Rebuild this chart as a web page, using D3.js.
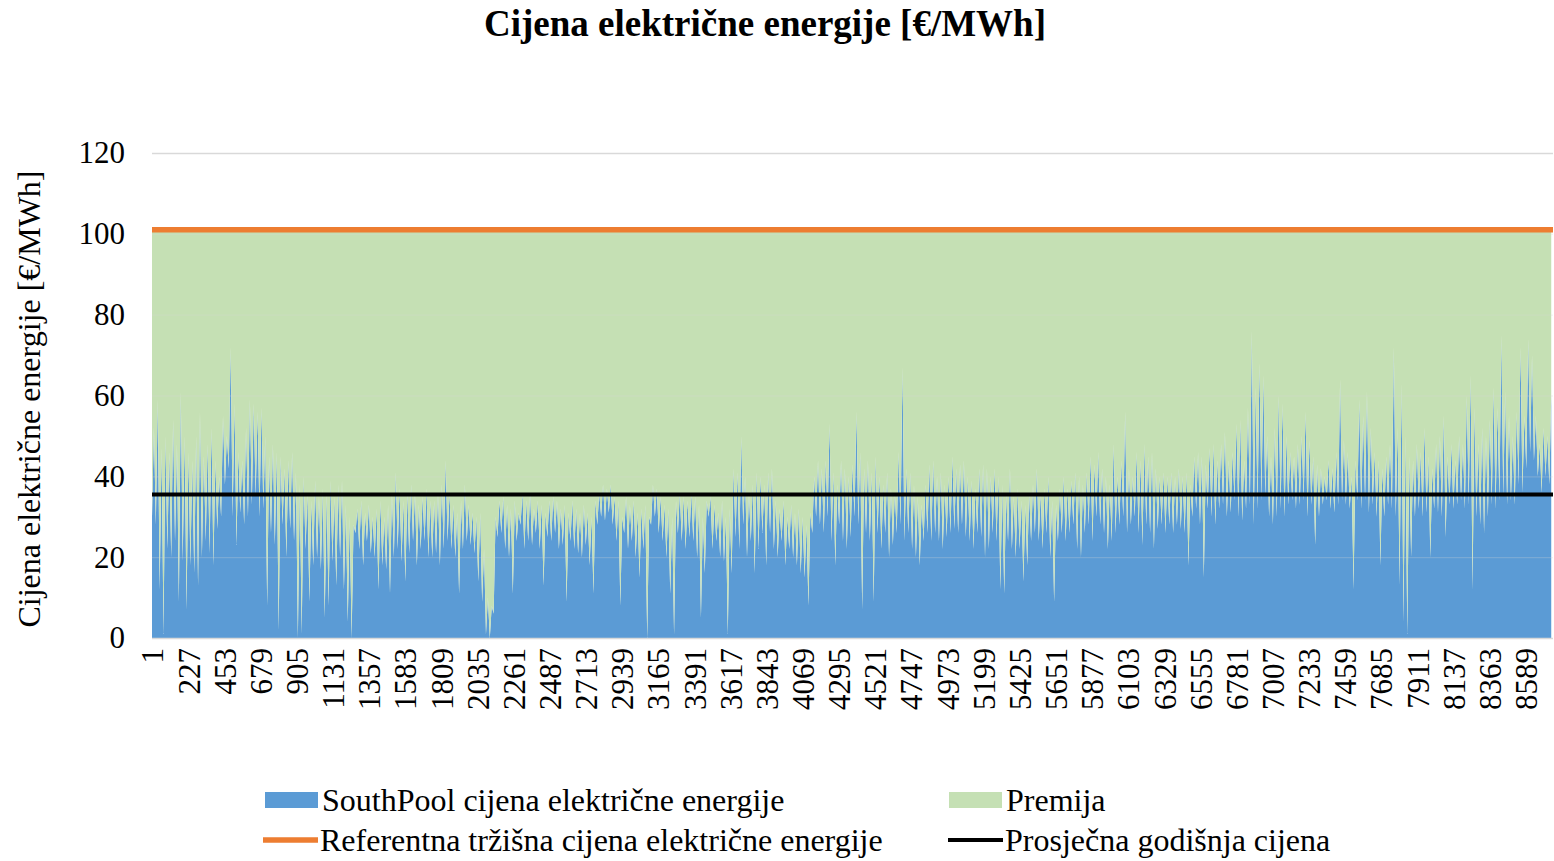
<!DOCTYPE html>
<html>
<head>
<meta charset="utf-8">
<script src="https://cdn.jsdelivr.net/npm/d3@7"></script>
<style>
  body { margin: 0; background: #fff; }
  svg { display: block; font-family: "Liberation Serif", "Times New Roman", serif; }
</style>
</head>
<body>
<svg width="1554" height="861"></svg>
<script>
// daily highs / lows of the SouthPool hourly price
const dailyHigh = [
  52,59,47,50,46,54,48,61,50,46,44,50,56,45,48,52,44,40,55,50,72,58,46,44,52,59,58,56,57,50,45,48,46,45,42,44,
  46,41,38,40,36,34,39,35,37,36,39,35,38,39,33,30,28,32,34,31,33,30,32,34,30,33,36,41,37,34,36,38,36,33,35,37,34,
  34,36,38,44,36,33,31,34,38,33,31,30,31,22,10,8,30,34,35,33,32,34,31,36,34,36,32,34,33,31,34,35,34,32,33,31,
  34,32,31,33,31,30,34,36,38,37,38,35,34,30,35,33,34,31,32,33,30,38,37,35,33,32,30,34,36,35,34,36,35,33,30,34,
  35,33,31,34,30,32,42,41,50,40,36,38,41,40,38,41,42,34,32,34,30,33,31,32,30,28,31,40,44,42,44,53,41,38,44,42,40,
  43,56,46,42,44,41,45,40,38,41,37,36,46,67,42,41,38,35,33,38,43,44,40,41,38,40,45,42,43,44,40,39,37,42,43,42,40,
  42,40,38,36,42,35,37,34,33,36,38,42,36,37,40,34,33,37,40,37,39,41,40,38,41,45,43,46,42,40,38,48,40,44,56,42,
  40,46,44,48,45,46,42,40,41,40,41,40,42,40,41,38,45,46,45,43,47,48,44,48,51,44,46,53,54,44,57,76,62,68,65,50,45,
  52,60,58,50,46,45,48,50,56,49,45,43,42,40,44,42,46,64,49,46,40,44,59,55,61,52,46,44,42,45,48,72,52,63,50,45,
  44,48,46,52,45,42,48,50,55,45,48,44,50,48,60,65,57,48,52,50,54,62,57,75,61,55,50,56,72,55,74,70,55,48,52,50,60
];
const dailyLow = [
  30,28,12,1,22,20,24,9,19,7,18,16,13,20,24,21,18,27,30,38,42,30,23,31,28,30,33,35,30,32,8,26,23,2,28,20,
  27,24,0,1,22,9,18,20,17,5,8,19,13,20,12,4,0,26,22,18,24,21,20,12,18,17,11,20,22,19,14,21,24,18,22,24,20,
  20,21,18,22,24,22,20,11,22,24,23,21,14,9,1,0,6,25,26,22,20,11,24,28,22,24,23,26,22,13,25,24,26,22,23,9,
  24,22,21,20,23,18,11,28,30,29,31,28,24,8,26,22,24,20,15,22,0,28,30,26,24,20,11,1,26,24,22,25,24,20,5,16,
  30,22,24,20,19,1,16,25,22,28,20,24,16,22,26,18,26,22,20,24,18,22,20,18,16,15,8,26,30,28,26,30,24,18,28,24,22,
  25,30,28,7,26,24,9,26,22,26,20,23,26,28,24,26,22,20,18,24,26,24,26,24,22,25,26,27,26,28,25,24,22,26,25,20,22,
  26,24,12,11,24,22,20,22,14,18,24,26,24,22,26,20,9,24,26,24,26,28,22,20,26,28,24,30,28,26,22,24,26,28,30,26,
  28,30,26,23,28,26,22,27,28,26,28,26,28,27,26,18,30,32,28,15,32,30,28,32,33,30,31,34,30,29,32,33,28,32,34,35,30,
  28,30,32,30,33,34,32,33,34,30,33,23,30,33,34,32,31,33,34,33,32,12,34,32,34,31,33,30,18,30,33,32,30,13,4,1,
  20,30,32,30,31,20,32,31,30,25,33,32,33,34,32,33,12,30,28,26,30,33,32,34,35,33,34,33,38,36,42,46,44,40,36,40,38
];
const referencePrice = 101;
const averagePrice = 35.5;
const yTicks = [0, 20, 40, 60, 80, 100, 120];
const xTickLabels = [1,227,453,679,905,1131,1357,1583,1809,2035,2261,2487,2713,2939,3165,3391,3617,3843,4069,
  4295,4521,4747,4973,5199,5425,5651,5877,6103,6329,6555,6781,7007,7233,7459,7685,7911,8137,8363,8589];

const seriesNames = ["SouthPool cijena električne energije", "Premija",
  "Referentna tržišna cijena električne energije", "Prosječna godišnja cijena"];
const colors = { price: "#5B9BD5", premium: "#C5E0B4", ref: "#ED7D31", avg: "#000000" };

let svg = d3.select("svg");
const plotLeft = 152, plotRight = 1553, plotTop = 153, plotBottom = 638;

// two readings per day: the low one early, the high one in the afternoon
let rows = [];
dailyLow.forEach((lo, d) => {
  rows.push({ hour: d * 24 + 1, price: lo, premium: referencePrice - lo });
  rows.push({ hour: d * 24 + 13, price: dailyHigh[d], premium: referencePrice - dailyHigh[d] });
});

let xScale = d3.scaleLinear().domain([1, 8760]).range([plotLeft, plotRight]);
let yScale = d3.scaleLinear().domain([0, 120]).range([plotBottom, plotTop]);

let stacked = d3.stack().keys(["price", "premium"])(rows);

let area = d3.area()
  .x(d => xScale(d.data.hour))
  .y0(d => yScale(d[0]))
  .y1(d => yScale(d[1]));

svg.append("g").selectAll("path")
  .data(stacked)
  .enter()
  .append("path")
  .attr("d", area)
  .attr("fill", d => d.key == "price" ? colors.price : colors.premium);

// gridlines (faintly showing through the areas like in Excel)
svg.append("g")
  .attr("transform", `translate(${plotLeft},0)`)
  .call(d3.axisLeft(yScale).tickValues(yTicks).tickSize(-(plotRight - plotLeft)).tickFormat(""))
  .call(g => g.select(".domain").remove())
  .call(g => g.selectAll("line").attr("stroke", "#D9D9D9").attr("stroke-opacity", d => d == 120 || d == 0 ? 1 : 0.25).attr("stroke-width", 1.3));

// y tick labels
svg.append("g")
  .attr("transform", `translate(${plotLeft},0)`)
  .call(d3.axisLeft(yScale).tickValues(yTicks).tickSize(0).tickPadding(27))
  .call(g => g.select(".domain").remove())
  .call(g => g.selectAll("text").attr("font-size", "31px").attr("font-family", "Liberation Serif").attr("fill", "#000"));

// x tick labels, rotated
let xAxis = svg.append("g")
  .attr("transform", `translate(0,${plotBottom})`)
  .call(d3.axisBottom(xScale).tickValues(xTickLabels).tickSize(0).tickFormat(d => d));
xAxis.select(".domain").remove();
xAxis.selectAll("text")
  .attr("font-size", "31px")
  .attr("font-family", "Liberation Serif")
  .attr("fill", "#000")
  .attr("text-anchor", "end")
  .attr("transform", "rotate(-90)")
  .attr("x", -10)
  .attr("y", 0)
  .attr("dy", "0.35em");

// reference and average lines
svg.append("line")
  .attr("x1", xScale(1)).attr("x2", xScale(8760))
  .attr("y1", yScale(referencePrice)).attr("y2", yScale(referencePrice))
  .attr("stroke", colors.ref).attr("stroke-width", 5.5);
svg.append("line")
  .attr("x1", xScale(1)).attr("x2", xScale(8760))
  .attr("y1", yScale(averagePrice)).attr("y2", yScale(averagePrice))
  .attr("stroke", colors.avg).attr("stroke-width", 4);

// title
svg.append("text")
  .attr("x", 765).attr("y", 36)
  .attr("text-anchor", "middle")
  .attr("font-size", "37px")
  .attr("font-weight", "bold")
  .text("Cijena električne energije [€/MWh]");

// y axis title
svg.append("text")
  .attr("transform", "translate(40,399) rotate(-90)")
  .attr("text-anchor", "middle")
  .attr("font-size", "32px")
  .text("Cijena električne energije [€/MWh]");

// legend
let legend = svg.append("g");
let legendItems = [
  { name: seriesNames[0], x: 265, y: 800, type: "rect", color: colors.price },
  { name: seriesNames[1], x: 949, y: 800, type: "rect", color: colors.premium },
  { name: seriesNames[2], x: 263, y: 840, type: "line", color: colors.ref },
  { name: seriesNames[3], x: 948, y: 840, type: "line", color: colors.avg }
];
legendItems.forEach(it => {
  if (it.type == "rect") {
    legend.append("rect").attr("x", it.x).attr("y", it.y - 8).attr("width", 53).attr("height", 16).attr("fill", it.color);
  } else {
    legend.append("line").attr("x1", it.x).attr("x2", it.x + 55).attr("y1", it.y).attr("y2", it.y)
      .attr("stroke", it.color).attr("stroke-width", it.color == colors.ref ? 5.5 : 4);
  }
  legend.append("text")
    .attr("x", it.x + 57).attr("y", it.y)
    .attr("dy", "0.35em")
    .attr("font-size", "32px")
    .text(it.name);
});
</script>
</body>
</html>
